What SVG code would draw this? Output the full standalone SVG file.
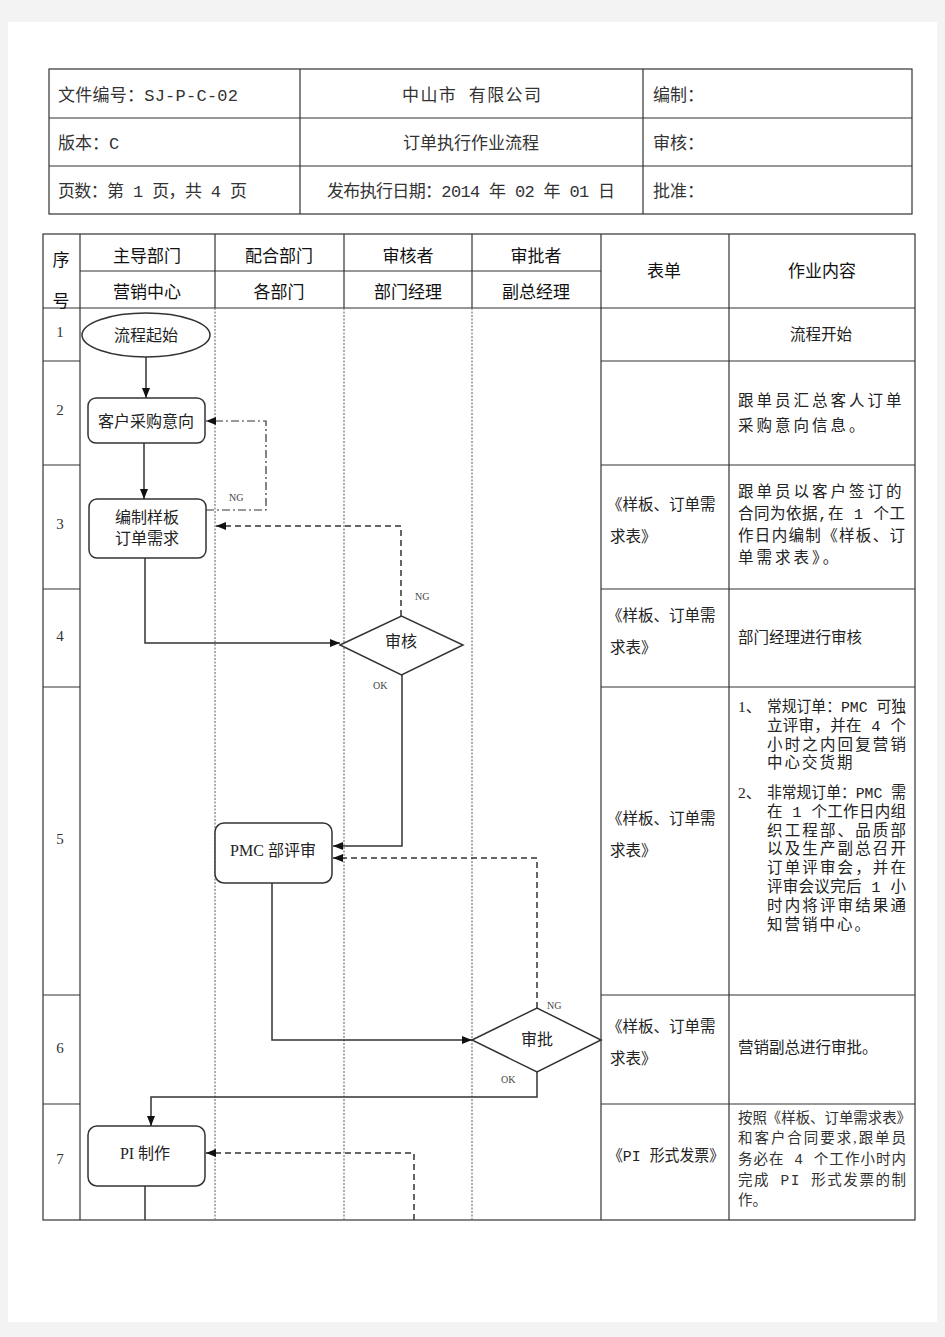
<svg xmlns="http://www.w3.org/2000/svg" width="945" height="1337" viewBox="0 0 945 1337">
<defs>
<marker id="ah" viewBox="0 0 10 8" refX="10" refY="4" markerWidth="10" markerHeight="8" markerUnits="userSpaceOnUse" orient="auto">
<path d="M0,0 L10,4 L0,8 Z" fill="#111"/>
</marker>
<style>
.t{font-family:'Liberation Serif','Noto Sans CJK SC',serif;fill:#333;}
.m{font-family:'Liberation Mono','Noto Sans CJK SC',monospace;fill:#333;}
.h{font-size:17px;}
.ch{font-size:17px;fill:#111;}
.n{font-size:15px;}
.b{font-size:16px;fill:#222;}
.c{font-size:15.5px;fill:#222;}
.lb{font-size:10px;fill:#444;}
.mid{text-anchor:middle;}
.grid{stroke:#333;stroke-width:1.2;fill:none;}
.lane{stroke:#777;stroke-width:1.2;stroke-dasharray:2,1.5;fill:none;}
.shape{fill:#fff;stroke:#333;stroke-width:1.5;}
.ln{fill:none;stroke:#333;stroke-width:1.5;}
.dash{fill:none;stroke:#333;stroke-width:1.5;stroke-dasharray:6,4;}
.dd{fill:none;stroke:#333;stroke-width:1.2;stroke-dasharray:8,3,2,3;}
</style>
</defs>
<rect x="0" y="0" width="945" height="1337" fill="#f3f3f3"/>
<rect x="8" y="22" width="929" height="1300" fill="#fff"/>

<g id="header-table">
<rect class="grid" x="49" y="69" width="863" height="145"/>
<line class="grid" x1="49" y1="118" x2="912" y2="118"/>
<line class="grid" x1="49" y1="166" x2="912" y2="166"/>
<line class="grid" x1="300" y1="69" x2="300" y2="214"/>
<line class="grid" x1="643" y1="69" x2="643" y2="214"/>
<text class="m h" x="58" y="101" textLength="180">文件编号：SJ-P-C-02</text>
<text class="m h" x="402" y="101" fill="#5a3d6a" textLength="139">中山市 有限公司</text>
<text class="m h" x="653" y="101">编制：</text>
<text class="m h" x="58" y="149">版本：C</text>
<text class="m h mid" x="471" y="149">订单执行作业流程</text>
<text class="m h" x="653" y="149">审核：</text>
<text class="m h" x="58" y="197" textLength="189">页数：第 1 页，共 4 页</text>
<text class="m h" x="327" y="197" textLength="288">发布执行日期：2014 年 02 年 01 日</text>
<text class="m h" x="653" y="197">批准：</text>
</g>

<g id="main-table">
<rect class="grid" x="43" y="234" width="872" height="986"/>
<line class="grid" x1="43" y1="308" x2="915" y2="308"/>
<line class="grid" x1="80" y1="271" x2="601" y2="271"/>
<line class="grid" x1="80" y1="234" x2="80" y2="1220"/>
<line class="grid" x1="215" y1="234" x2="215" y2="308"/>
<line class="grid" x1="344" y1="234" x2="344" y2="308"/>
<line class="grid" x1="472" y1="234" x2="472" y2="308"/>
<line class="grid" x1="601" y1="234" x2="601" y2="1220"/>
<line class="grid" x1="729" y1="234" x2="729" y2="1220"/>
<line class="lane" x1="215" y1="308" x2="215" y2="1220"/>
<line class="lane" x1="344" y1="308" x2="344" y2="1220"/>
<line class="lane" x1="472" y1="308" x2="472" y2="1220"/>
<g class="grid">
<line x1="43" y1="361" x2="80" y2="361"/><line x1="601" y1="361" x2="915" y2="361"/>
<line x1="43" y1="465" x2="80" y2="465"/><line x1="601" y1="465" x2="915" y2="465"/>
<line x1="43" y1="589" x2="80" y2="589"/><line x1="601" y1="589" x2="915" y2="589"/>
<line x1="43" y1="687" x2="80" y2="687"/><line x1="601" y1="687" x2="915" y2="687"/>
<line x1="43" y1="995" x2="80" y2="995"/><line x1="601" y1="995" x2="915" y2="995"/>
<line x1="43" y1="1104" x2="80" y2="1104"/><line x1="601" y1="1104" x2="915" y2="1104"/>
</g>
<text class="t ch mid" x="61" y="266">序</text>
<text class="t ch mid" x="61" y="307">号</text>
<text class="t ch mid" x="147" y="262">主导部门</text>
<text class="t ch mid" x="279" y="262">配合部门</text>
<text class="t ch mid" x="408" y="262">审核者</text>
<text class="t ch mid" x="536" y="262">审批者</text>
<text class="t ch mid" x="147" y="298">营销中心</text>
<text class="t ch mid" x="279" y="298">各部门</text>
<text class="t ch mid" x="408" y="298">部门经理</text>
<text class="t ch mid" x="536" y="298">副总经理</text>
<text class="t ch mid" x="664" y="277">表单</text>
<text class="t ch mid" x="822" y="277">作业内容</text>
<text class="t n mid" x="60" y="337" fill="#7a1020">1</text>
<text class="t n mid" x="60" y="415">2</text>
<text class="t n mid" x="60" y="529">3</text>
<text class="t n mid" x="60" y="641">4</text>
<text class="t n mid" x="60" y="844">5</text>
<text class="t n mid" x="60" y="1053">6</text>
<text class="t n mid" x="60" y="1164">7</text>
</g>

<g id="form-col">
<text class="t c" x="607" y="510">《样板、订单需</text>
<text class="t c" x="610" y="542">求表》</text>
<text class="t c" x="607" y="621">《样板、订单需</text>
<text class="t c" x="610" y="653">求表》</text>
<text class="t c" x="607" y="824">《样板、订单需</text>
<text class="t c" x="610" y="856">求表》</text>
<text class="t c" x="607" y="1032">《样板、订单需</text>
<text class="t c" x="610" y="1064">求表》</text>
<text class="m c" x="608" y="1161" textLength="116" lengthAdjust="spacingAndGlyphs">《PI 形式发票》</text>
</g>

<g id="content-col">
<text class="t c mid" x="821" y="340">流程开始</text>
<text class="t c" x="738" y="406" letter-spacing="3">跟单员汇总客人订单</text>
<text class="t c" x="738" y="431" letter-spacing="3">采购意向信息。</text>
<text class="t c" x="738" y="497" letter-spacing="3">跟单员以客户签订的</text>
<text class="m c" x="738" y="519" textLength="167">合同为依据,在 1 个工</text>
<text class="t c" x="738" y="541" textLength="167">作日内编制《样板、订</text>
<text class="t c" x="738" y="563" letter-spacing="3">单需求表》。</text>
<text class="t c" x="738" y="643">部门经理进行审核</text>
<text class="t c" x="738" y="712">1、</text>
<text class="m c" x="767" y="712" textLength="139" lengthAdjust="spacingAndGlyphs">常规订单：PMC 可独</text>
<text class="m c" x="767" y="731" textLength="139">立评审，并在 4 个</text>
<text class="t c" x="767" y="750" textLength="139">小时之内回复营销</text>
<text class="t c" x="767" y="768" letter-spacing="2">中心交货期</text>
<text class="t c" x="738" y="798">2、</text>
<text class="m c" x="767" y="798" textLength="139" lengthAdjust="spacingAndGlyphs">非常规订单：PMC 需</text>
<text class="m c" x="767" y="817" textLength="139">在 1 个工作日内组</text>
<text class="t c" x="767" y="836" textLength="139">织工程部、品质部</text>
<text class="t c" x="767" y="854" textLength="139">以及生产副总召开</text>
<text class="t c" x="767" y="873" textLength="139">订单评审会，并在</text>
<text class="m c" x="767" y="892" textLength="139">评审会议完后 1 小</text>
<text class="t c" x="767" y="911" textLength="139">时内将评审结果通</text>
<text class="t c" x="767" y="930" letter-spacing="2">知营销中心。</text>
<text class="t c" x="738" y="1053">营销副总进行审批。</text>
<text class="t" x="738" y="1123" font-size="14.5" fill="#222" textLength="173" lengthAdjust="spacingAndGlyphs">按照《样板、订单需求表》</text>
<text class="t" x="738" y="1143" font-size="14.5" fill="#222" textLength="168">和客户合同要求,跟单员</text>
<text class="m" x="738" y="1164" font-size="14.5" fill="#222" textLength="168">务必在 4 个工作小时内</text>
<text class="m" x="738" y="1185" font-size="14.5" fill="#222" textLength="168">完成 PI 形式发票的制</text>
<text class="t" x="738" y="1205" font-size="14.5" fill="#222">作。</text>
</g>

<g id="connectors">
<line class="ln" x1="146" y1="357" x2="146" y2="398" marker-end="url(#ah)"/>
<line class="ln" x1="144" y1="443" x2="144" y2="499" marker-end="url(#ah)"/>
<polyline class="ln" points="145,558 145,643 340,643" marker-end="url(#ah)"/>
<polyline class="dd" points="206,510 266,510 266,421 206,421" marker-end="url(#ah)"/>
<polyline class="dash" points="401,616 401,526 216,526" marker-end="url(#ah)"/>
<polyline class="ln" points="402,675 402,846 333,846" marker-end="url(#ah)"/>
<polyline class="ln" points="272,883 272,1040 472,1040" marker-end="url(#ah)"/>
<polyline class="dash" points="537,1008 537,858 333,858" marker-end="url(#ah)"/>
<polyline class="ln" points="537,1072 537,1097 151,1097 151,1126" marker-end="url(#ah)"/>
<polyline class="dash" points="414,1220 414,1153 206,1153" marker-end="url(#ah)"/>
<line class="ln" x1="145" y1="1186" x2="145" y2="1220"/>
<text class="t lb" x="229" y="501">NG</text>
<text class="t lb" x="415" y="600">NG</text>
<text class="t lb" x="373" y="689">OK</text>
<text class="t lb" x="547" y="1009">NG</text>
<text class="t lb" x="501" y="1083">OK</text>
</g>

<g id="node-start">
<ellipse class="shape" cx="146" cy="335" rx="64" ry="22"/>
<text class="t b mid" x="146" y="341">流程起始</text>
</g>
<g id="node-intent">
<rect class="shape" x="88" y="398" width="117" height="45" rx="8"/>
<text class="t b mid" x="146" y="427">客户采购意向</text>
</g>
<g id="node-compile">
<rect class="shape" x="89" y="499" width="117" height="59" rx="8"/>
<text class="t b mid" x="147" y="523">编制样板</text>
<text class="t b mid" x="147" y="544">订单需求</text>
</g>
<g id="node-review">
<polygon class="shape" points="340,645 401.5,616 463,645 401.5,675"/>
<text class="t b mid" x="401" y="647">审核</text>
</g>
<g id="node-pmc">
<rect class="shape" x="215" y="823" width="117" height="60" rx="9"/>
<text class="t b mid" x="273" y="856">PMC 部评审</text>
</g>
<g id="node-approve">
<polygon class="shape" points="472,1040 537,1008 601,1040 537,1072"/>
<text class="t b mid" x="537" y="1045">审批</text>
</g>
<g id="node-pi">
<rect class="shape" x="88" y="1126" width="117" height="60" rx="9"/>
<text class="t b mid" x="145" y="1159">PI 制作</text>
</g>
</svg>
